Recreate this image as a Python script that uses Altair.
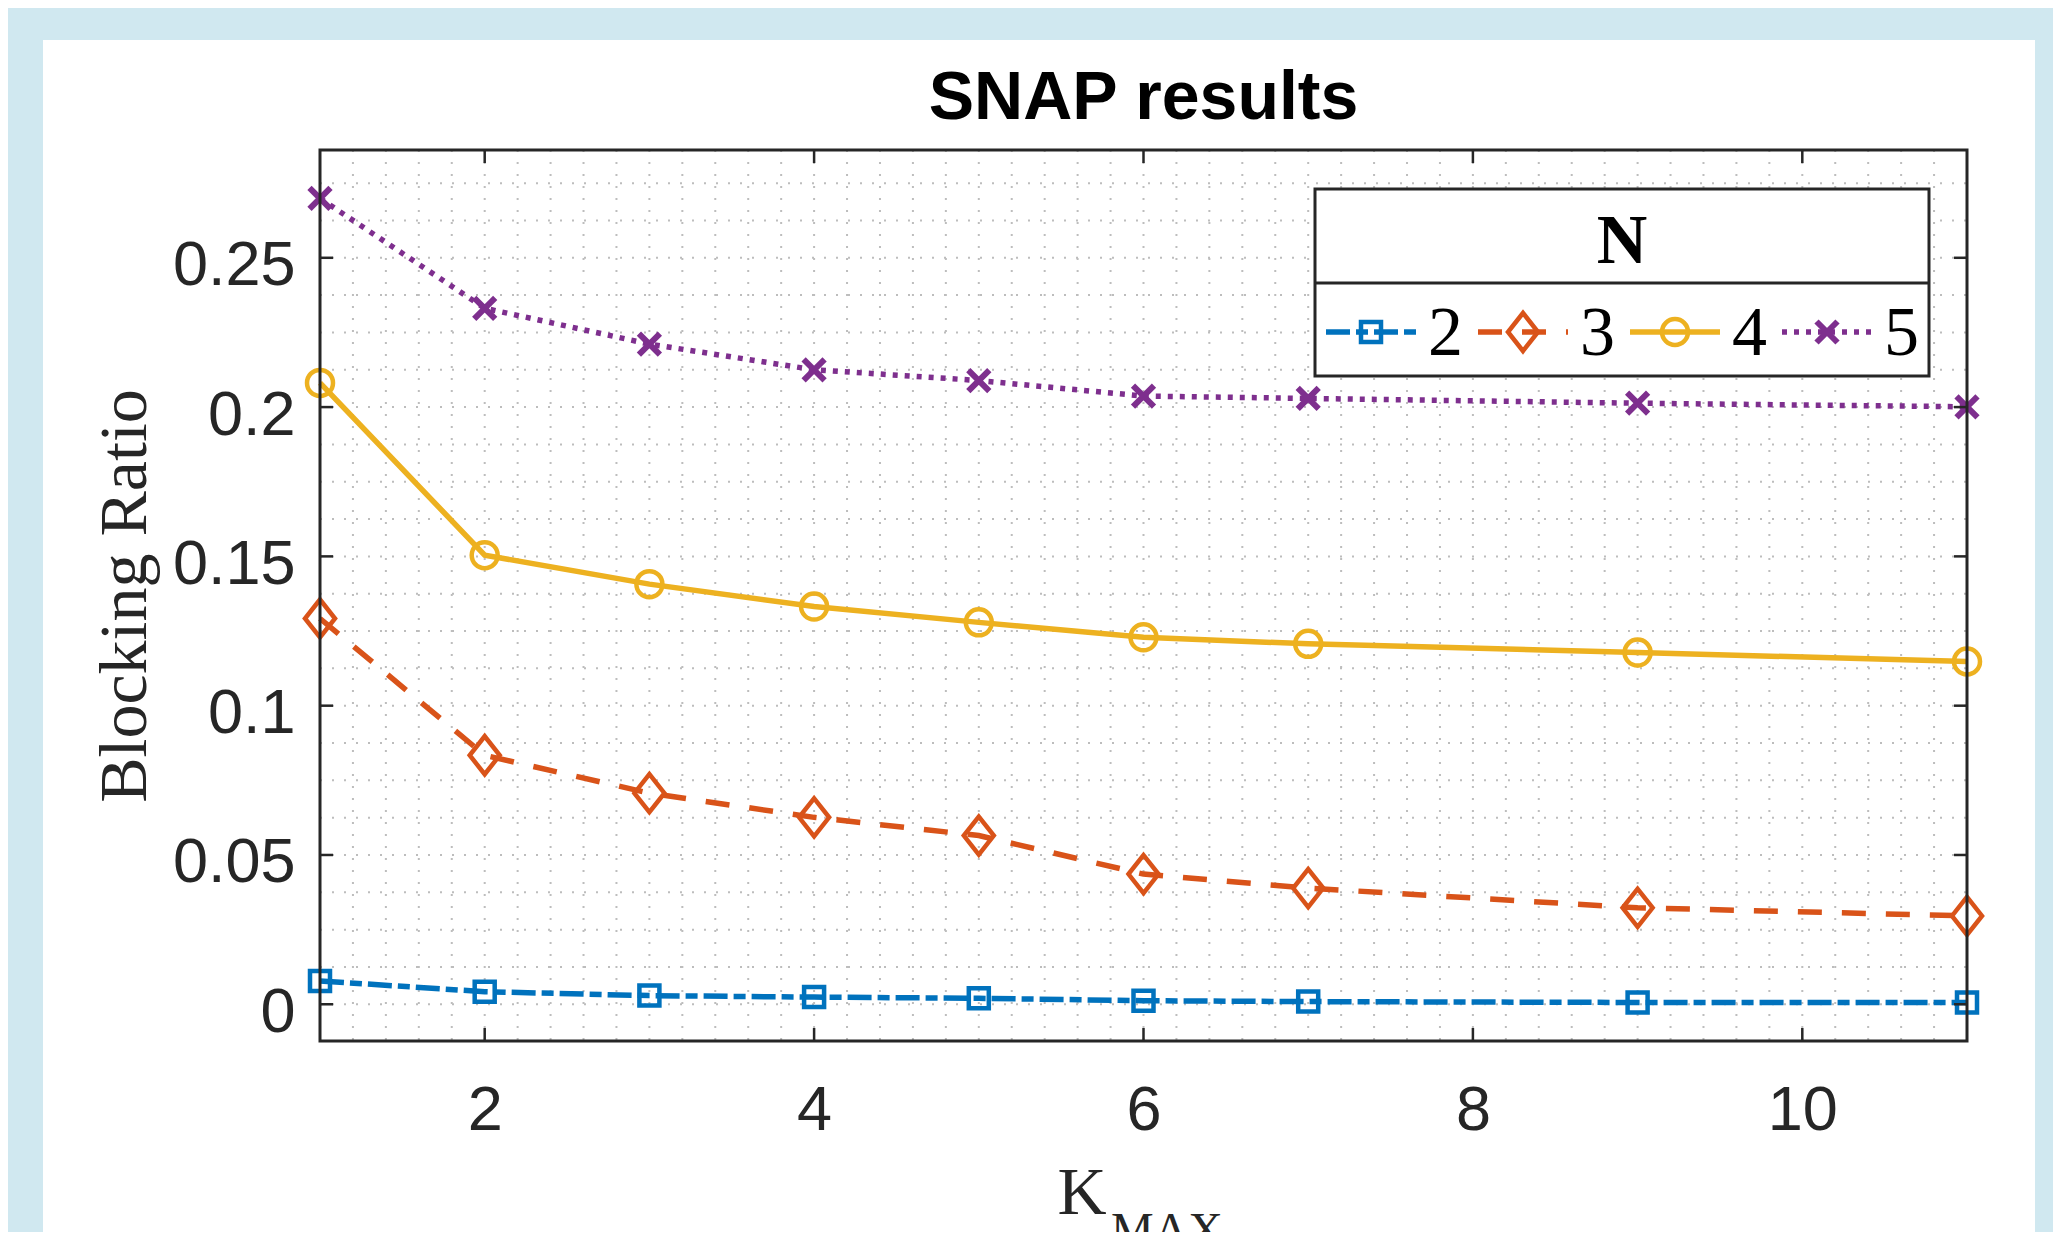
import altair as alt
import pandas as pd
import numpy as np

# ---------------- data ----------------
K_MAX = [1, 2, 3, 4, 5, 6, 7, 9, 11]
N_LABELS = ["2", "3", "4", "5"]
RATIO_N2 = [0.0078, 0.0042, 0.0029, 0.0024, 0.0020, 0.0012, 0.0009, 0.0006, 0.0006]
RATIO_N3 = [0.1292, 0.0834, 0.0707, 0.0626, 0.0565, 0.0436, 0.0389, 0.0323, 0.0296]
RATIO_N4 = [0.2081, 0.1504, 0.1407, 0.1332, 0.1279, 0.1229, 0.1207, 0.1178, 0.1148]
RATIO_N5 = [0.2699, 0.2331, 0.2211, 0.2125, 0.2089, 0.2037, 0.2029, 0.2013, 0.2001]
X_TICKS = [2, 4, 6, 8, 10]
Y_TICKS = [0, 0.05, 0.1, 0.15, 0.2, 0.25]
TITLE = "SNAP results"
Y_TITLE = "Blocking Ratio"
X_TITLE_MAIN = "K"
X_TITLE_SUB = "MAX"
LEGEND_TITLE = "N"

SERIES = [RATIO_N2, RATIO_N3, RATIO_N4, RATIO_N5]

# ---------------- styles / layout ----------------
COLORS = ["#0072BD", "#D95319", "#EDB120", "#7E2F8E"]
DASHES = [[24, 6, 12, 6], [24, 20], None, [5, 7]]
DIAMOND = "M0,-1L0.79,0L0,1L-0.79,0Z"
XMARK = "M-1,-1L1,1M-1,1L1,-1"
SHAPES = ["square", DIAMOND, "circle", XMARK]
SIZES = [400, 1444, 676, 441]
MARKER_W = [4.5, 4.5, 4.5, 6]
LINE_W = 5.5

W, H = 1647, 891
DARK = "#262626"
GRID = "#bdbdbd"
X_DOMAIN = [1, 11]
Y_DOMAIN = [-0.0123, 0.2861]

xs = alt.Scale(domain=X_DOMAIN, nice=False, zero=False)
ys = alt.Scale(domain=Y_DOMAIN, nice=False, zero=False)

one = pd.DataFrame({"a": [0]})

x_axis = alt.Axis(
    values=X_TICKS, title=X_TITLE_MAIN, labelFont="Liberation Sans", labelFontSize=63,
    labelColor=DARK, labelPadding=38, ticks=False, tickSize=0, domain=False, grid=False, zindex=1,
    labelFlush=False, titleFont="Liberation Serif", titleFontSize=68, titleColor=DARK,
    titleFontWeight="normal", titleX=737, titleY=172, titleAlign="left",
    titleBaseline="alphabetic",
)
y_axis = alt.Axis(
    values=Y_TICKS, format="~g", title=Y_TITLE, labelFont="Liberation Sans", labelFontSize=63,
    labelColor=DARK, labelPadding=25, labelBaseline="middle", labelOffset=8,
    ticks=False, tickSize=0, domain=False, grid=False, zindex=1, labelFlush=False,
    titleFont="Liberation Serif", titleFontSize=68, titleColor=DARK, titleFontWeight="normal",
    titleX=-175, titleY=H / 2, titleAngle=270, titleAlign="center", titleBaseline="alphabetic",
)

layers = []

# white card
layers.append(
    alt.Chart(one).mark_rect(color="white").encode(
        x=alt.value(-277), x2=alt.value(1715), y=alt.value(-110), y2=alt.value(1200)
    )
)

# grids (major + minor, dotted)
xg = [round(v, 4) for v in np.arange(1.2, 10.9, 0.2)]
yg = [round(v, 5) for v in np.arange(0, 0.2861, 0.0125)]
layers.append(
    alt.Chart(pd.DataFrame({"g": xg})).mark_rule(color=GRID, strokeWidth=2, strokeDash=[2, 10]).encode(
        x=alt.X("g:Q", scale=xs, axis=None), y=alt.value(0), y2=alt.value(H)
    )
)
layers.append(
    alt.Chart(pd.DataFrame({"g": yg})).mark_rule(color=GRID, strokeWidth=2, strokeDash=[2, 10]).encode(
        y=alt.Y("g:Q", scale=ys, axis=None), x=alt.value(0), x2=alt.value(W)
    )
)

# series lines and markers
for i, (lab, vals) in enumerate(zip(N_LABELS, SERIES)):
    d = pd.DataFrame({"K": K_MAX, "ratio": vals, "N": lab})
    line_kw = dict(color=COLORS[i], strokeWidth=LINE_W)
    if DASHES[i]:
        line_kw["strokeDash"] = DASHES[i]
    first = i == 0
    layers.append(
        alt.Chart(d).mark_line(**line_kw).encode(
            x=alt.X("K:Q", scale=xs, axis=x_axis if first else None),
            y=alt.Y("ratio:Q", scale=ys, axis=y_axis if first else None),
        )
    )
for i, (lab, vals) in enumerate(zip(N_LABELS, SERIES)):
    d = pd.DataFrame({"K": K_MAX, "ratio": vals, "N": lab})
    layers.append(
        alt.Chart(d).mark_point(
            shape=SHAPES[i], size=SIZES[i], color=COLORS[i], filled=False,
            strokeWidth=MARKER_W[i], opacity=1,
        ).encode(
            x=alt.X("K:Q", scale=xs, axis=None),
            y=alt.Y("ratio:Q", scale=ys, axis=None),
        )
    )

# frame
layers.append(
    alt.Chart(one).mark_rect(fillOpacity=0, stroke=DARK, strokeWidth=3).encode(
        x=alt.value(0), x2=alt.value(W), y=alt.value(0), y2=alt.value(H)
    )
)

# inward ticks on all four sides
TL = 13
xt = pd.DataFrame({"t": X_TICKS})
yt = pd.DataFrame({"t": Y_TICKS})
for y1, y2 in [(H, H - TL), (0, TL)]:
    layers.append(
        alt.Chart(xt).mark_rule(color=DARK, strokeWidth=2.5).encode(
            x=alt.X("t:Q", scale=xs, axis=None), y=alt.value(y1), y2=alt.value(y2)
        )
    )
for x1, x2 in [(0, TL), (W - TL, W)]:
    layers.append(
        alt.Chart(yt).mark_rule(color=DARK, strokeWidth=2.5).encode(
            y=alt.Y("t:Q", scale=ys, axis=None), x=alt.value(x1), x2=alt.value(x2)
        )
    )

# legend box
LX0, LX1, LY0, LY1, LDIV = 995, 1609, 39, 226, 133
layers.append(
    alt.Chart(one).mark_rect(color="white", stroke=DARK, strokeWidth=3).encode(
        x=alt.value(LX0), x2=alt.value(LX1), y=alt.value(LY0), y2=alt.value(LY1)
    )
)
layers.append(
    alt.Chart(one).mark_rule(color=DARK, strokeWidth=3).encode(
        x=alt.value(LX0), x2=alt.value(LX1), y=alt.value(LDIV)
    )
)
layers.append(
    alt.Chart(pd.DataFrame({"t": [LEGEND_TITLE]})).mark_text(
        font="Liberation Serif", fontSize=70, fontWeight="bold", color="black",
        align="center", baseline="alphabetic",
    ).encode(text="t:N", x=alt.value((LX0 + LX1) / 2), y=alt.value(113))
)
for i, lab in enumerate(N_LABELS):
    mx = 1051 + i * 152
    my = 182
    rk = dict(color=COLORS[i], strokeWidth=LINE_W)
    if DASHES[i]:
        rk["strokeDash"] = DASHES[i]
    layers.append(
        alt.Chart(one).mark_rule(**rk).encode(
            x=alt.value(mx - 45), x2=alt.value(mx + 45), y=alt.value(my)
        )
    )
    layers.append(
        alt.Chart(one).mark_point(
            shape=SHAPES[i], size=SIZES[i], color=COLORS[i], filled=False,
            strokeWidth=MARKER_W[i], opacity=1,
        ).encode(x=alt.value(mx), y=alt.value(my))
    )
    layers.append(
        alt.Chart(pd.DataFrame({"t": [lab]})).mark_text(
            font="Liberation Serif", fontSize=70, color="black", align="left",
            baseline="alphabetic",
        ).encode(text="t:N", x=alt.value(mx + 57), y=alt.value(205))
    )

# chart title
layers.append(
    alt.Chart(pd.DataFrame({"t": [TITLE]})).mark_text(
        font="Liberation Sans", fontSize=68, fontWeight="bold", color="black",
        align="center", baseline="alphabetic",
    ).encode(text="t:N", x=alt.value(W / 2), y=alt.value(-31.5))
)
# subscript of x title
layers.append(
    alt.Chart(pd.DataFrame({"t": [X_TITLE_SUB]})).mark_text(
        font="Liberation Serif", fontSize=48, color=DARK, align="left", baseline="alphabetic",
    ).encode(text="t:N", x=alt.value(791), y=alt.value(1096))
)

chart = alt.layer(*layers).resolve_axis(x="independent", y="independent").properties(
    width=W,
    height=H,
    padding={"left": 312, "top": 142, "right": 86, "bottom": 191},
    autosize=alt.AutoSizeParams(type="none"),
    background="#d0e8f0",
).configure_view(strokeWidth=0)

chart.save("out.html", embed_options={"renderer": "svg", "actions": False})
